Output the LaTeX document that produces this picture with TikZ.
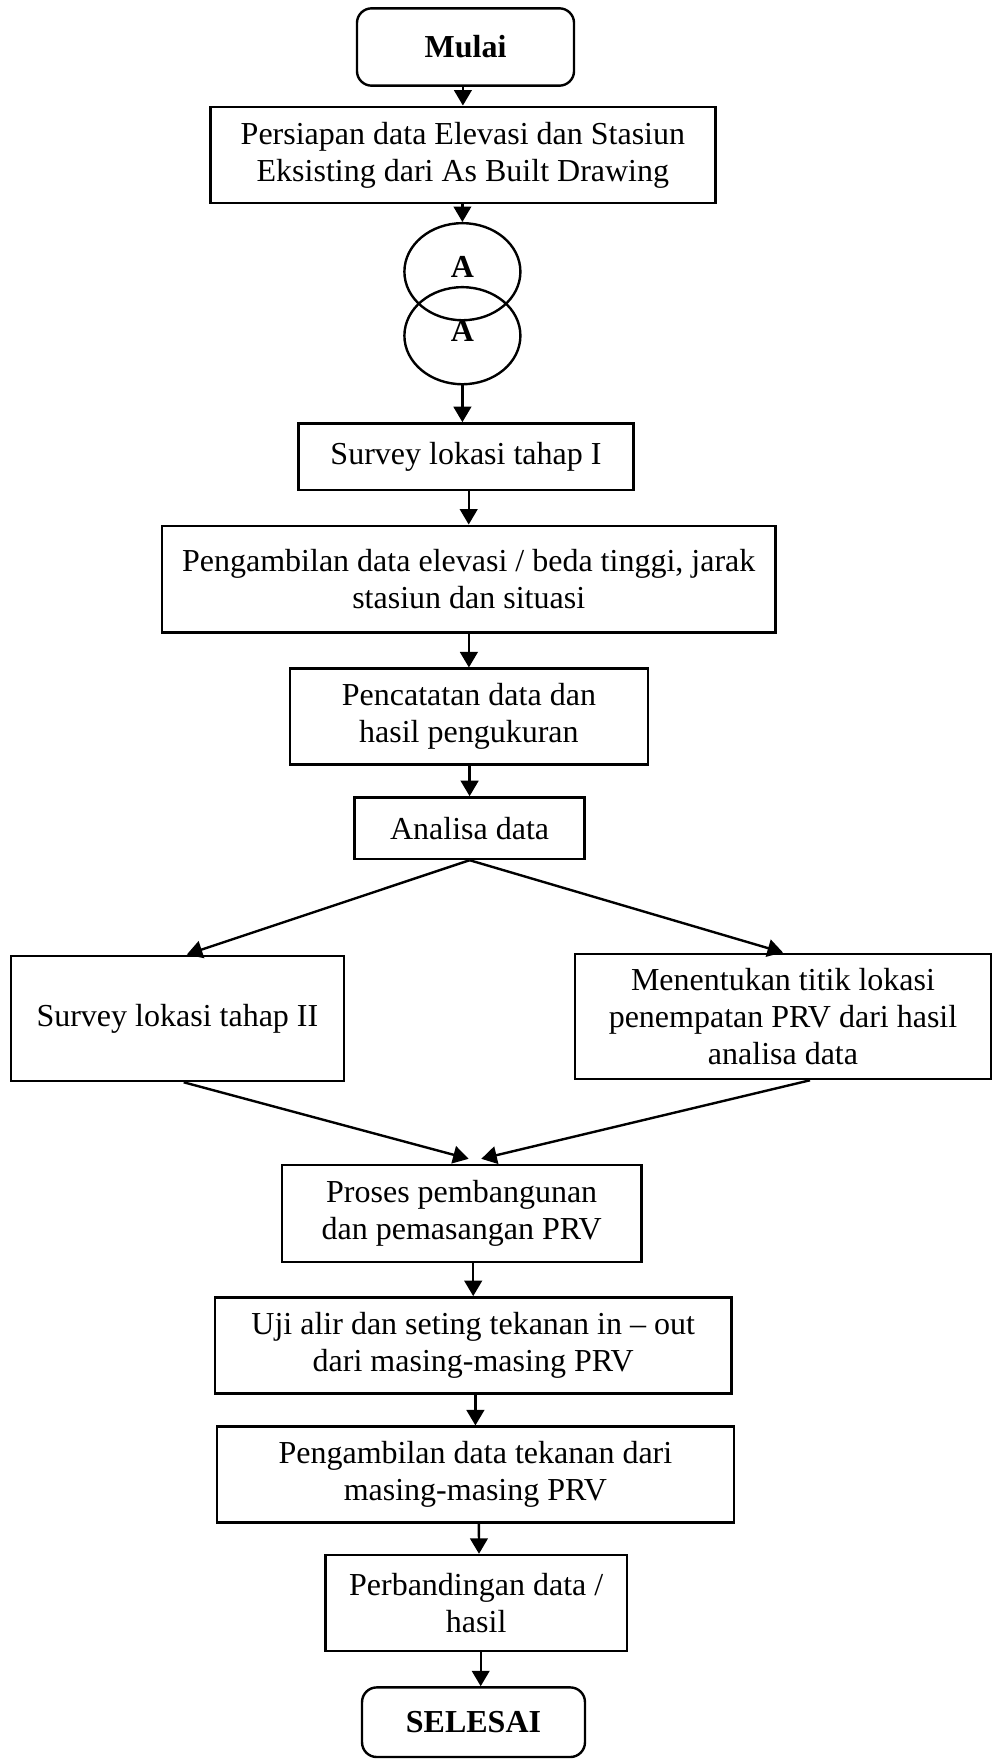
\documentclass[tikz,border=0pt]{standalone}
\usepackage{fontspec}
\setmainfont{Liberation Serif}
\usetikzlibrary{arrows.meta,shapes.geometric,calc}
\begin{document}
\fontsize{12}{13.8}\selectfont
\begin{tikzpicture}[x=0.375pt,y=-0.375pt,
  every node/.style={inner sep=0pt, align=center, font=\fontsize{12}{13.8}\selectfont},
  box/.style={draw, line width=0.9pt, rectangle},
  term/.style={draw, line width=0.9pt, rounded corners=5.5pt, font=\fontsize{12}{13.8}\selectfont\bfseries},
  conn/.style={draw, line width=0.9pt, ellipse, minimum width=43.5pt, minimum height=36.4pt, text depth=3.75pt, font=\fontsize{12}{13.8}\selectfont\bfseries},
  arr/.style={-{Triangle[length=5.8pt,width=6.6pt]}, line width=0.9pt},
]
\useasboundingbox (0,0) rectangle (993,1759);

\node[term, minimum width=81.4pt, minimum height=29pt] (mulai) at (465.5,47) {Mulai};
\node[box, minimum width=189.4pt, minimum height=36.2pt] (persiapan) at (462.9,155)
  {Persiapan data Elevasi dan Stasiun\\Eksisting dari As Built Drawing};
\node[conn] (ca) at (462.4,271.7) {A};
\node[conn] (cb) at (462.4,335.7) {A};
\node[box, minimum width=125.7pt, minimum height=25pt] (survey1) at (466,456.7) {Survey lokasi tahap I};
\node[box, minimum width=230.1pt, minimum height=40.1pt] (elevasi) at (468.7,579.2)
  {Pengambilan data elevasi / beda tinggi, jarak\\stasiun dan situasi};
\node[box, minimum width=134.3pt, minimum height=35.9pt] (catat) at (468.9,716.5)
  {Pencatatan data dan\\hasil pengukuran};
\node[box, minimum width=86.25pt, minimum height=23.1pt] (analisa) at (469.6,828.2) {Analisa data};
\node[box, minimum width=124.9pt, minimum height=47pt] (survey2) at (177.4,1018.4) {Survey lokasi tahap II};
\node[box, minimum width=156pt, minimum height=47pt] (titik) at (783,1016.4)
  {Menentukan titik lokasi\\penempatan PRV dari hasil\\analisa data};
\node[box, minimum width=134.8pt, minimum height=36.3pt] (proses) at (461.7,1213.4)
  {Proses pembangunan\\dan pemasangan PRV};
\node[box, minimum width=193.8pt, minimum height=36pt] (uji) at (473.2,1345.3)
  {Uji alir dan seting tekanan in -- out\\dari masing-masing PRV};
\node[box, minimum width=194pt, minimum height=35.9pt] (tekanan) at (475.4,1474.5)
  {Pengambilan data tekanan dari\\masing-masing PRV};
\node[box, minimum width=113.1pt, minimum height=36pt] (banding) at (476.2,1603)
  {Perbandingan data /\\hasil};
\node[term, minimum width=83.6pt, minimum height=26.1pt] (selesai) at (473.5,1722.2) {SELESAI};

\draw[arr] (mulai.south -| persiapan.north) -- (persiapan.north);
\draw[arr] (persiapan.south -| ca.north) -- (ca.north);
\draw[arr] (cb.south) -- (cb.south |- survey1.north);
\draw[arr] (survey1.south -| elevasi.north) -- (elevasi.north);
\draw[arr] (elevasi.south -| catat.north) -- (catat.north);
\draw[arr] (catat.south -| analisa.north) -- (analisa.north);
\draw[arr] (analisa.south) -- ($(survey2.north)+(9.4,0)$);
\draw[arr] (analisa.south) -- (titik.north);
\draw[arr] ($(survey2.south)+(6.3,0)$) -- ($(proses.north)+(6.9,-5)$);
\draw[arr] ($(titik.south)+(27,0)$) -- ($(proses.north)+(19.6,-5)$);
\draw[arr] (proses.south -| uji.north) -- (uji.north);
\draw[arr] (uji.south -| tekanan.north) -- (tekanan.north);
\draw[arr] ($(tekanan.south)+(3.5,0)$) -- ($(banding.north)+(2.8,0)$);
\draw[arr] ($(banding.south)+(4.5,0)$) -- ($(selesai.north)+(7.2,0)$);
\end{tikzpicture}
\end{document}
